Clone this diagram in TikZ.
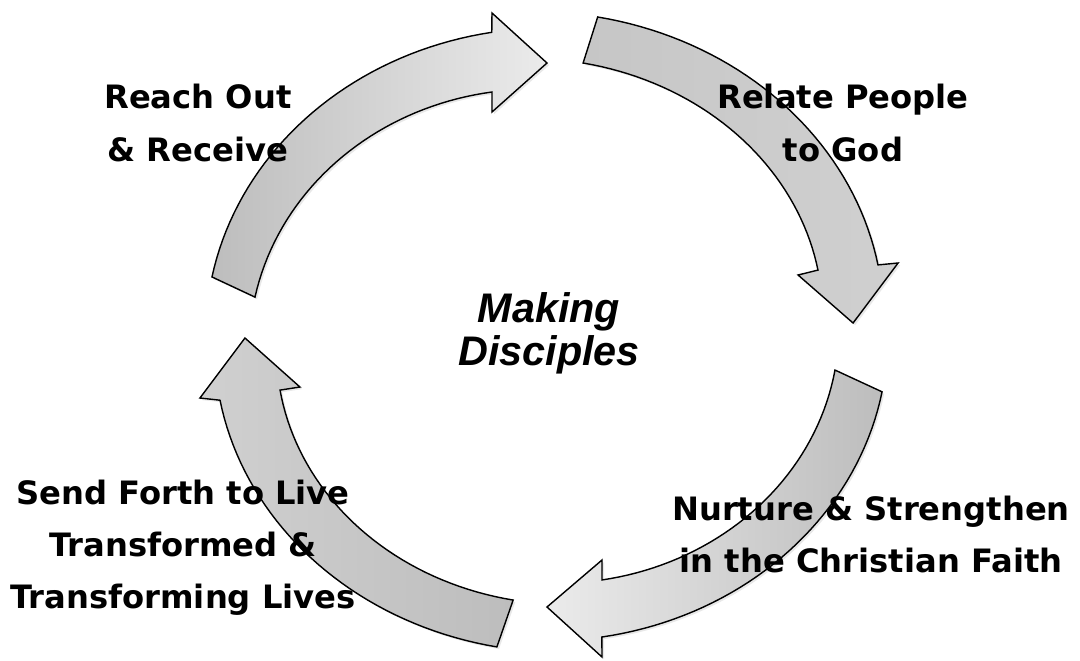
\documentclass[tikz,border=0pt]{standalone}
\usepackage{fontspec}
\usepackage{tikz}
\usetikzlibrary{shadows}
\newfontfamily\stepfont{DejaVu Sans}
\newfontfamily\hubfont{Liberation Sans}
\definecolor{arrowdark}{HTML}{BDBDBD}
\definecolor{arrowlight}{HTML}{EBEBEB}
\definecolor{arrowmid}{HTML}{C6C6C6}
\definecolor{arrowmidlight}{HTML}{D0D0D0}

\begin{document}
\begin{tikzpicture}[x=0.025cm,y=-0.025cm,
	cyclearrow/.style={draw=black,line width=1pt,
		drop shadow={opacity=0.18,shadow xshift=1.5pt,shadow yshift=-1.5pt}},
	steplabel/.style={font=\stepfont\bfseries\fontsize{22.9}{37}\selectfont,align=center,inner sep=0pt},
	hublabel/.style={font=\hubfont\bfseries\itshape\fontsize{29.4}{30.6}\selectfont,align=center,inner sep=0pt}]
			\path[fill=white,use as bounding box](0,0)rectangle(1080,660);
			\coordinate (hub) at (549,335);
			\coordinate (tipA) at (547,63);
			\coordinate (baseAo) at (492,13);
			\coordinate (baseAi) at (492,112);
			\coordinate (tipB) at (853,323);
			\coordinate (baseBo) at (898,263);
			\coordinate (baseBi) at (798,275);
			\coordinate (tipC) at (547,607);
			\coordinate (baseCo) at (602,657);
			\coordinate (baseCi) at (602,560);
			\coordinate (tipD) at (245,338);
			\coordinate (baseDo) at (200,398);
			\coordinate (baseDi) at (300,387);
			\begin{scope}[shift={(hub)},xscale=1.118,yscale=-1]
				\filldraw[cyclearrow,left color=arrowdark,right color=arrowlight]
					plot[domain=169.1:99.6,samples=40](\x:{307})--(baseAo)--(tipA)--(baseAi)
					--plot[domain=101.85:171.8,samples=40](\x:{248.3+17.4*(\x-101.85)/69.95})--cycle;
				\filldraw[cyclearrow,left color=arrowmid,right color=arrowmidlight]
					plot[domain=82.2:13.4,samples=40](\x:{321-18.5*(82.2-\x)/68.8})--(baseBo)--(tipB)--(baseBi)
					--plot[domain=15.1:83.6,samples=40](\x:{249.2+24.5*(\x-15.1)/68.5})--cycle;
				\filldraw[cyclearrow,right color=arrowdark,left color=arrowlight]
					plot[domain=-10.8:-81.1,samples=40](\x:{303.3+2.4*(-10.8-\x)/70.3})--(baseCo)--(tipC)--(baseCi)
					--plot[domain=-79.05:-7.8,samples=40](\x:{249.5+8.7*(\x+79.05)/71.25})--cycle;
				\filldraw[cyclearrow,left color=arrowmidlight,right color=arrowdark]
					plot[domain=261.5:192.5,samples=40](\x:{315.4-14*(261.5-\x)/69})--(baseDo)--(tipD)--(baseDi)
					--plot[domain=192.9:263.1,samples=40](\x:{246.8+20.2*(\x-192.9)/70.2})--cycle;
			\end{scope}
			\node[steplabel] (reach) at (198,123) {Reach Out\\\& Receive};
			\node[steplabel] (relate) at (843,123) {Relate People\\to God};
			\node[steplabel] (nurture) at (871,534) {Nurture \& Strengthen\\in the Christian Faith};
			\node[steplabel] (send) at (183,548) {Send Forth to Live\\Transformed \&\\Transforming Lives};
			\node[hublabel] (making) at (549,333) {Making\\Disciples};
		\end{tikzpicture}
\end{document}
